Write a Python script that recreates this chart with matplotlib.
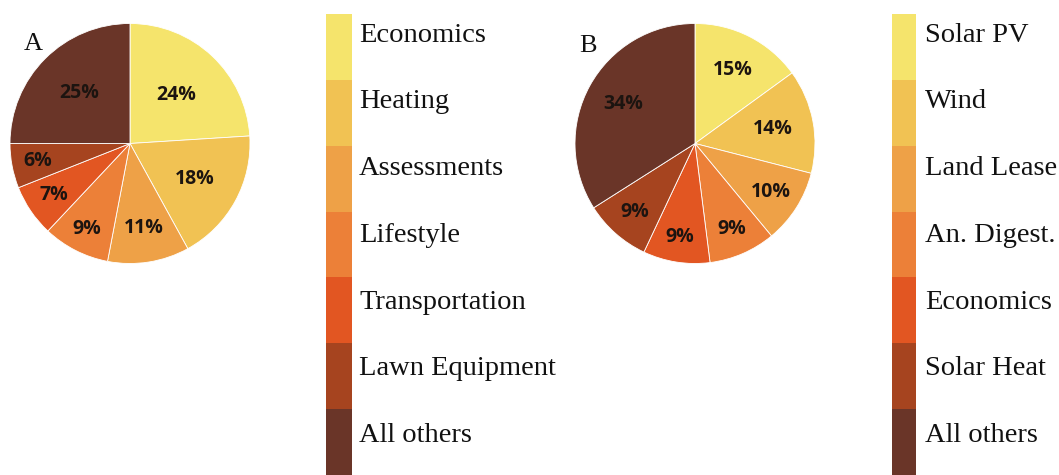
import numpy as np
import matplotlib
matplotlib.use("Agg")
import matplotlib.pyplot as plt

# ---- data ----
cats_A = ["Economics", "Heating", "Assessments", "Lifestyle",
          "Transportation", "Lawn Equipment", "All others"]
vals_A = [24, 18, 11, 9, 7, 6, 25]

cats_B = ["Solar PV", "Wind", "Land Lease", "An. Digest.",
          "Economics", "Solar Heat", "All others"]
vals_B = [15, 14, 10, 9, 9, 9, 34]

colors = ["#F5E46C", "#F1C253", "#EEA147", "#EC8038",
          "#E25622", "#A6441F", "#6A3528"]

# label radial positions (fraction of radius), style only
lab_r_A = [0.56, 0.62, 0.71, 0.80, 0.77, 0.78, 0.60]
lab_r_B = [0.69, 0.66, 0.75, 0.78, 0.79, 0.76, 0.68]

W, H = 1059, 475
fig = plt.figure(figsize=(W / 100, H / 100), dpi=100)


def px_axes(x0, y0, x1, y1):
    return fig.add_axes([x0 / W, 1 - y1 / H, (x1 - x0) / W, (y1 - y0) / H])


def draw_pie(cx, cy, r, vals, lab_r, letter, lx, ly):
    ax = px_axes(cx - r, cy - r, cx + r, cy + r)
    wedges, _ = ax.pie(vals, colors=colors, startangle=90, counterclock=False,
                       wedgeprops=dict(edgecolor="white", linewidth=0.6))
    ax.set_xlim(-1, 1)
    ax.set_ylim(-1, 1)
    ax.set_aspect("equal")
    ax.axis("off")
    for w, v, rr in zip(wedges, vals, lab_r):
        ang = np.deg2rad((w.theta1 + w.theta2) / 2)
        ax.text(rr * np.cos(ang), rr * np.sin(ang), f"{v}%",
                ha="center", va="center", fontsize=14, fontweight="bold",
                family="Open Sans", color="#1c1410")
    fig.text(lx / W, 1 - ly / H, letter, fontsize=19, family="Liberation Serif",
             ha="center", va="center", color="#111111")


def draw_legend(x0, x1, cats, tx):
    ax = px_axes(x0, 14, x1, 475)
    n = len(cats)
    ax.barh(np.arange(n), 1, height=1.0, align="edge", color=colors,
            edgecolor="none")
    ax.set_xlim(0, 1)
    ax.set_ylim(n, 0)
    ax.axis("off")
    blk = (475 - 14) / n
    for i, c in enumerate(cats):
        ypix = 35 + i * 66.8
        ax.text(tx, (ypix - 14) / blk, c, transform=ax.transData, ha="left",
                va="center", fontsize=20.5, family="Liberation Serif",
                color="#111111", clip_on=False)


draw_pie(130, 143.5, 120, vals_A, lab_r_A, "A", 33, 44)
draw_pie(695, 143.5, 120, vals_B, lab_r_B, "B", 588, 46)

draw_legend(326, 352, cats_A, (359 - 326) / (352 - 326))
draw_legend(892, 916, cats_B, (925 - 892) / (916 - 892))

fig.savefig("out.png", dpi=100)
